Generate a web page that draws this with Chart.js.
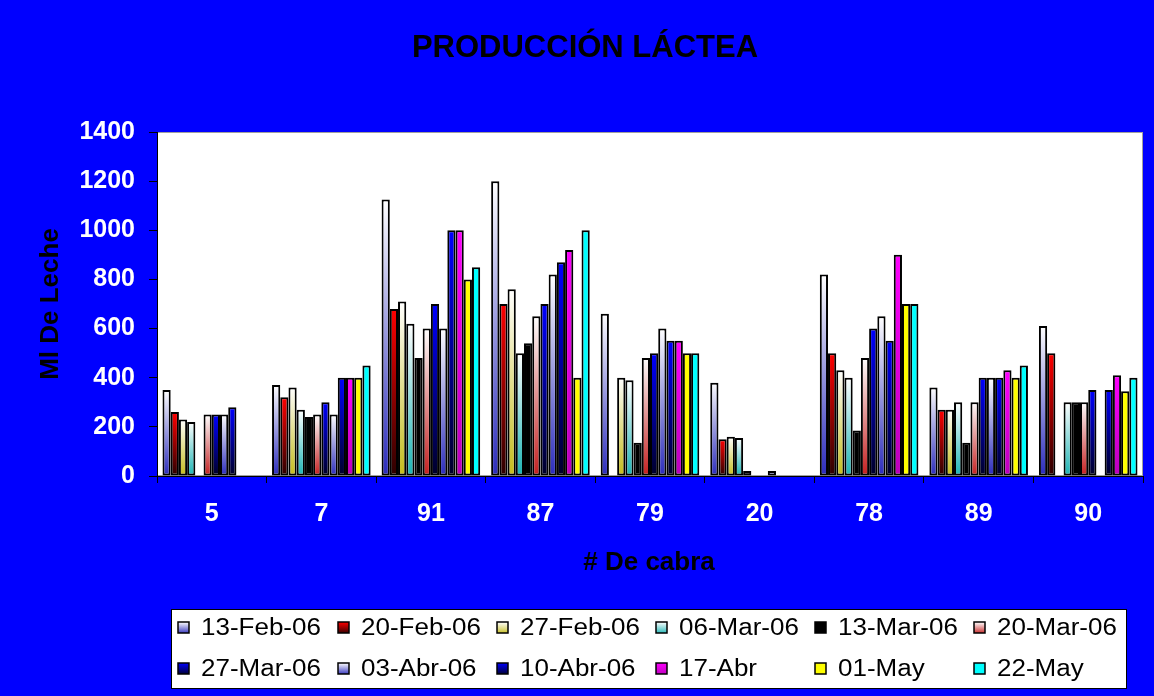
<!DOCTYPE html>
<html>
<head>
<meta charset="utf-8">
<script src="https://cdn.jsdelivr.net/npm/chart.js@4"></script>
<style>
html,body{margin:0;padding:0;background:#0000ff;}
#wrap{width:1154px;height:696px;}
</style>
</head>
<body>
<div id="wrap"><canvas id="c" width="1154" height="696"></canvas></div>
<script>
// ---- Data ----
const goats = ['5','7','91','87','79','20','78','89','90'];
const seriesLabels = ['13-Feb-06','20-Feb-06','27-Feb-06','06-Mar-06','13-Mar-06','20-Mar-06',
                      '27-Mar-06','03-Abr-06','10-Abr-06','17-Abr','01-May','22-May'];
const feb13 = [350, 370, 1125, 1200, 660, 380, 820, 360, 610];
const feb20 = [260, 320, 680, 700, null, 150, 500, 270, 500];
const feb27 = [230, 360, 710, 760, 400, 160, 430, 270, null];
const mar06 = [220, 270, 620, 500, 390, 155, 400, 300, 300];
const mar13 = [null, 240, 480, 540, 135, 20, 185, 135, 300];
const mar20 = [250, 250, 600, 650, 480, null, 480, 300, 300];
const mar27 = [250, 300, 700, 700, 500, null, 600, 400, 350];
const abr03 = [250, 250, 600, 820, 600, 20, 650, 400, null];
const abr10 = [280, 400, 1000, 870, 550, null, 550, 400, 350];
const abr17 = [null, 400, 1000, 920, 550, null, 900, 430, 410];
const may01 = [null, 400, 800, 400, 500, null, 700, 400, 345];
const may22 = [null, 450, 850, 1000, 500, null, 700, 450, 400];
const yTicks = [0, 200, 400, 600, 800, 1000, 1200, 1400];

const allSeries = [feb13, feb20, feb27, mar06, mar13, mar20, mar27, abr03, abr10, abr17, may01, may22];
// gradient colours: top -> bottom
const fills = [
  ['#ffffff', '#2c2cbc'],
  ['#ff0000', '#2a0000'],
  ['#ffffff', '#c4bc1c'],
  ['#ffffff', '#1cb4b4'],
  ['#000000', '#000000'],
  ['#ffffff', '#c42020'],
  ['#0000ff', '#000028'],
  ['#ffffff', '#2c2cbc'],
  ['#0000ff', '#000028'],
  ['#ff00ff', '#bb00bb'],
  ['#ffff00', '#ffff00'],
  ['#00ffff', '#00ffff']
];

const FONT = '"Liberation Sans", Arial, sans-serif';

function makeFill(i) {
  return function (ctx) {
    const chart = ctx.chart;
    const c = fills[i];
    if (ctx.type !== 'data' || !chart.scales || !chart.scales.y) return c[0];
    const v = ctx.parsed ? ctx.parsed.y : null;
    if (v == null) return c[0];
    const ys = chart.scales.y;
    const top = ys.getPixelForValue(v);
    const bot = ys.getPixelForValue(0);
    if (!isFinite(top) || !isFinite(bot) || bot - top < 1) return c[1];
    const g = chart.ctx.createLinearGradient(0, top, 0, bot);
    g.addColorStop(0, c[0]);
    g.addColorStop(1, c[1]);
    return g;
  };
}

const datasets = allSeries.map((d, i) => ({
  label: seriesLabels[i],
  data: d,
  backgroundColor: makeFill(i),
  borderColor: '#000000',
  borderWidth: 2,
  borderSkipped: false,
  categoryPercentage: 0.9,
  barPercentage: 1.0
}));

const decor = {
  id: 'decor',
  beforeDraw(chart) {
    const ctx = chart.ctx, a = chart.chartArea;
    ctx.save();
    ctx.fillStyle = '#0000ff';
    ctx.fillRect(0, 0, chart.width, chart.height);
    ctx.fillStyle = '#ffffff';
    ctx.fillRect(a.left, a.top, a.right - a.left, a.bottom - a.top);
    ctx.strokeStyle = '#a0a0a0';
    ctx.lineWidth = 1;
    ctx.strokeRect(a.left + 0.5, a.top + 0.5, a.right - a.left - 1, a.bottom - a.top - 1);
    ctx.restore();
  },
  afterDraw(chart) {
    const ctx = chart.ctx;
    ctx.save();
    ctx.fillStyle = '#000000';
    // Title
    ctx.font = 'bold 31px ' + FONT;
    ctx.textAlign = 'center';
    ctx.textBaseline = 'alphabetic';
    ctx.fillText('PRODUCCIÓN LÁCTEA', 585, 57);
    // X axis title
    ctx.font = 'bold 26px ' + FONT;
    ctx.fillText('# De cabra', 649, 570);
    // Y axis title
    ctx.save();
    ctx.translate(58, 304);
    ctx.rotate(-Math.PI / 2);
    ctx.fillText('Ml De Leche', 0, 0);
    ctx.restore();
    // Legend
    const L = 171, T = 609, R = 1127, B = 689;
    ctx.fillStyle = '#ffffff';
    ctx.fillRect(L, T, R - L, B - T);
    ctx.strokeStyle = '#000000';
    ctx.lineWidth = 1;
    ctx.strokeRect(L + 0.5, T + 0.5, R - L - 1, B - T - 1);
    const cols = [178, 338, 497, 656, 815, 974];
    const rows = [628, 669];
    ctx.textAlign = 'left';
    ctx.textBaseline = 'middle';
    for (let i = 0; i < seriesLabels.length; i++) {
      const x = cols[i % 6], y = rows[Math.floor(i / 6)];
      const c = fills[i];
      const g = ctx.createLinearGradient(0, y - 6, 0, y + 6);
      g.addColorStop(0, c[0]);
      g.addColorStop(1, c[1]);
      ctx.fillStyle = g;
      ctx.fillRect(x, y - 6, 11, 11);
      ctx.strokeStyle = '#000000';
      ctx.lineWidth = 1.5;
      ctx.strokeRect(x, y - 6, 11, 11);
      ctx.save();
      ctx.translate(x + 23, y + 1);
      ctx.scale(1.13, 1);
      ctx.fillStyle = '#000000';
      ctx.font = '23px ' + FONT;
      ctx.fillText(seriesLabels[i], 0, 0);
      ctx.restore();
    }
    ctx.restore();
  }
};

new Chart(document.getElementById('c'), {
  type: 'bar',
  data: { labels: goats, datasets: datasets },
  options: {
    responsive: false,
    animation: false,
    layout: { padding: { left: 0, top: 132, right: 11, bottom: 0 } },
    plugins: { legend: { display: false }, title: { display: false }, tooltip: { enabled: false } },
    scales: {
      x: {
        grid: { drawOnChartArea: false, drawTicks: true, tickLength: 7, color: '#000000', offset: true },
        border: { display: true, color: '#000000', width: 1 },
        ticks: { color: '#ffffff', font: { family: FONT, size: 25, weight: 'bold' }, padding: 16, maxRotation: 0, autoSkip: false },
        afterFit(s) { s.height = 220; }
      },
      y: {
        min: 0, max: 1400,
        afterBuildTicks(s) { s.ticks = yTicks.map(v => ({ value: v })); },
        grid: { drawOnChartArea: false, drawTicks: true, tickLength: 8, color: '#000000' },
        border: { display: true, color: '#000000', width: 1 },
        ticks: { color: '#ffffff', font: { family: FONT, size: 25, weight: 'bold' }, padding: 14,
                 callback: (v) => String(v) },
        afterFit(s) { s.width = 157; }
      }
    }
  },
  plugins: [decor]
});
</script>
</body>
</html>
